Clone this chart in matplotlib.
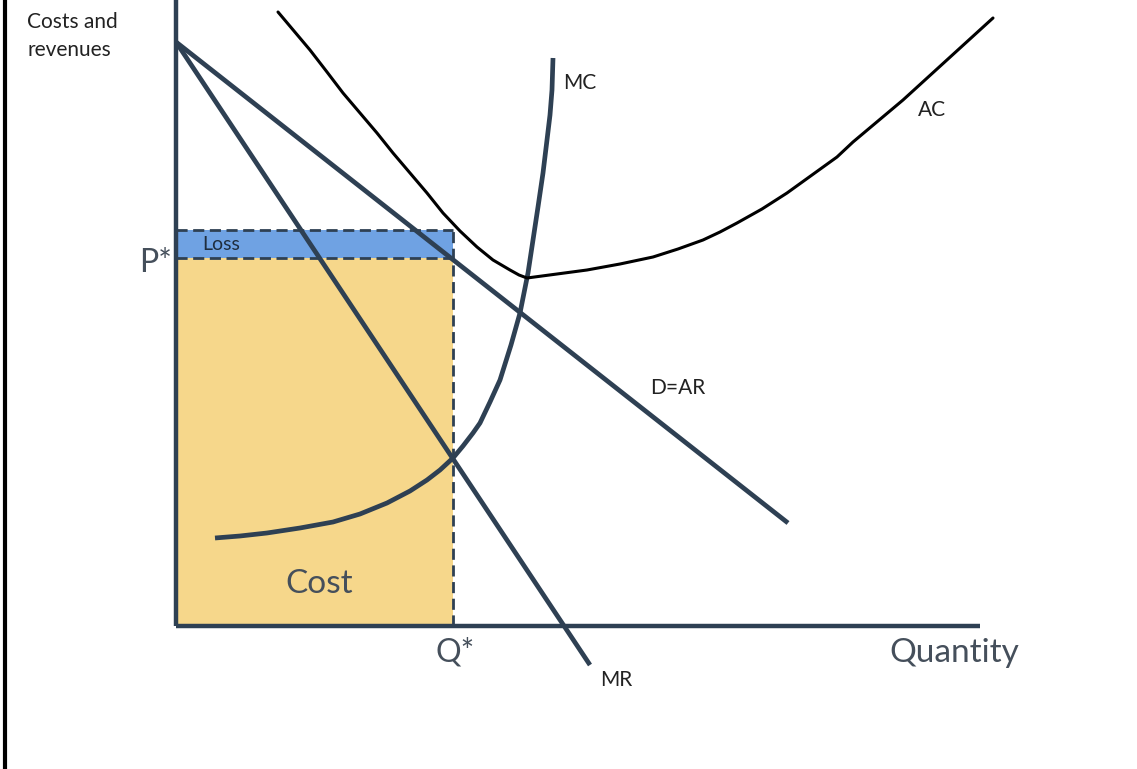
import matplotlib.pyplot as plt
import matplotlib.lines as mlines
import numpy as np

# diagram units: quantity to the right of the origin, price/cost above it
demand_q = [0, 612]
demand_p = [584, 103]

mr_q = [0, 414]
mr_p = [584, -39]

mc_q = [39, 64, 91, 124, 157, 184, 211, 234, 251, 264, 277, 287, 297, 304,
        314, 324, 335, 344, 348, 352, 357, 362, 367, 371, 374, 376, 377]
mc_p = [88, 90, 93, 98, 104, 112, 123, 135, 146, 156, 168, 180, 193, 203,
        224, 246, 281, 313, 333, 353, 386, 419, 453, 486, 511, 536, 568]

ac_q = [102, 118, 134, 151, 167, 184, 201, 217, 234, 251, 267, 284, 301, 317, 334, 343, 351,
        381, 411, 444, 477, 502, 527, 544, 561, 586, 611, 636, 661, 677, 702, 727, 772, 817]
ac_p = [614, 595, 576, 554, 533, 513, 493, 473, 453, 433, 413, 395, 379, 366, 356, 351, 348,
        352, 356, 362, 369, 377, 386, 394, 403, 417, 433, 451, 469, 484, 505, 526, 567, 608]

q_star = 277
p_star = 368
ac_at_q = 396

navy = '#2e4053'
grey_txt = '#454f5b'

fig = plt.figure(figsize=(11.37, 7.69), dpi=100)
ax = fig.add_axes([0, 0, 1, 1])
ax.set_xlim(-176, 961)
ax.set_ylim(-143, 626)
ax.axis('off')

# cost and loss areas
ax.fill_between([0, q_star], 0, p_star, color='#f6d78b', lw=0, zorder=1)
ax.fill_between([0, q_star], p_star, ac_at_q, color='#6fa2e3', lw=0, zorder=1)
dash = dict(color=navy, lw=2, ls=(0, (4, 2)), zorder=2)
ax.plot([0, q_star], [ac_at_q, ac_at_q], **dash)
ax.plot([0, q_star], [p_star, p_star], **dash)
ax.plot([q_star, q_star], [0, ac_at_q], **dash)

# axes
ax.plot([0, 0], [0, 626], color=navy, lw=3.2, solid_capstyle='butt', zorder=4)
ax.plot([0, 804], [0, 0], color=navy, lw=3.2, solid_capstyle='butt', zorder=4)

# curves
ax.plot(demand_q, demand_p, color=navy, lw=3.4, solid_capstyle='butt', zorder=3)
ax.plot(mr_q, mr_p, color=navy, lw=3.4, solid_capstyle='butt', zorder=3)
ax.plot(mc_q, mc_p, color=navy, lw=3.4, solid_capstyle='butt', solid_joinstyle='round', zorder=3)
ax.plot(ac_q, ac_p, color='black', lw=2.2, solid_capstyle='round', solid_joinstyle='round', zorder=3)

# labels
ax.text(-149, 614, 'Costs and\nrevenues', fontsize=15, family='Lato', color='#222222',
        va='top', ha='left', linespacing=1.5)
ax.text(-4, p_star - 5, 'P*', fontsize=23, family='Lato', color=grey_txt, ha='right', va='center')
ax.text(q_star + 2, -12, 'Q*', fontsize=23, family='Lato', color=grey_txt, ha='center', va='top')
ax.text(713, -12, 'Quantity', fontsize=24, family='Lato', color=grey_txt, ha='left', va='top')
ax.text(143, 42, 'Cost', fontsize=24, family='Lato', color=grey_txt, ha='center', va='center')
ax.text(26, 382, 'Loss', fontsize=14, family='Lato', color='#1f2d3d', ha='left', va='center')
ax.text(387, 543, 'MC', fontsize=15, family='Lato', color='#222222', ha='left', va='center')
ax.text(742, 516, 'AC', fontsize=15, family='Lato', color='#222222', ha='left', va='center')
ax.text(474, 238, 'D=AR', fontsize=15, family='Lato', color='#222222', ha='left', va='center')
ax.text(424, -54, 'MR', fontsize=15, family='Lato', color='#222222', ha='left', va='center')

# frame line on the left edge
fig.add_artist(mlines.Line2D([0.0045, 0.0045], [0, 1], color='black', lw=3, transform=fig.transFigure))

fig.savefig('out.png', dpi=100)
